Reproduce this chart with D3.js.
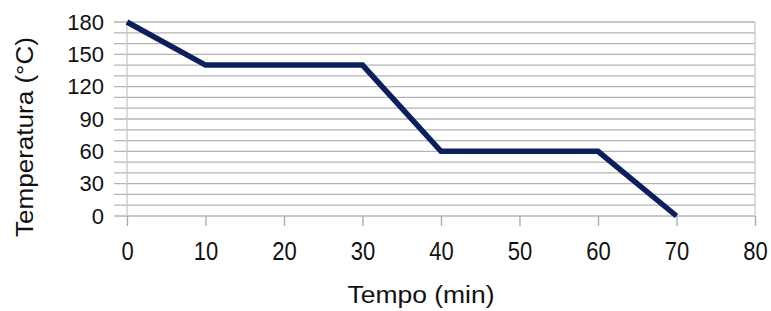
<!DOCTYPE html>
<html><head><meta charset="utf-8">
<script src="https://cdn.jsdelivr.net/npm/d3@7"></script>
<style>body{margin:0;background:#fff;} text{font-family:"Liberation Sans",Arial,sans-serif;fill:#111;}</style>
</head><body>
<svg id="c" width="771" height="311"></svg>
<script>
const tempo = [0, 10, 30, 40, 60, 70];
const temperatura = [180, 140, 140, 60, 60, 0];
const xTicks = [0, 10, 20, 30, 40, 50, 60, 70, 80];
const yTicks = [0, 30, 60, 90, 120, 150, 180];
const yGrid = d3.range(0, 181, 10);

const svg = d3.select("#c");
const x = d3.scaleLinear().domain([0, 80]).range([127, 755]);
const y = d3.scaleLinear().domain([0, 180]).range([216, 22]);

// horizontal grid lines
svg.append("g").selectAll("line").data(yGrid).join("line")
  .attr("x1", 114).attr("x2", x(80))
  .attr("y1", d => y(d)).attr("y2", d => y(d))
  .attr("stroke", "#b4b4b4").attr("stroke-width", 1.3);

// vertical axis + right border
svg.append("line").attr("x1", x(0)).attr("x2", x(0)).attr("y1", y(180)).attr("y2", y(0))
  .attr("stroke", "#c8c8c8").attr("stroke-width", 1.3);
svg.append("line").attr("x1", x(80)).attr("x2", x(80)).attr("y1", y(180)).attr("y2", y(0))
  .attr("stroke", "#c8c8c8").attr("stroke-width", 1.3);

// x axis ticks
const xAxis = d3.axisBottom(x).tickValues(xTicks).tickSize(10).tickPadding(8).tickFormat(d3.format("d"));
const gx = svg.append("g").attr("transform", `translate(0,${y(0)})`).call(xAxis);
gx.select(".domain").remove();
gx.selectAll(".tick line").attr("stroke", "#aaa").attr("stroke-width", 1.3);
gx.selectAll(".tick text").style("font-size", "22px").attr("fill", "#111")
  .attr("y", 0).attr("dy", null).attr("transform", "scale(1,1.15) translate(0,38.3)");

// y axis labels
const yAxis = d3.axisLeft(y).tickValues(yTicks).tickSize(0).tickPadding(23);
const gy = svg.append("g").attr("transform", `translate(${x(0)},0)`).call(yAxis);
gy.select(".domain").remove();
gy.selectAll(".tick text").style("font-size", "22px").attr("fill", "#111");

// line
const line = d3.line().x((d, i) => x(tempo[i])).y(d => y(d));
svg.append("path").datum(temperatura).attr("d", line)
  .attr("fill", "none").attr("stroke", "#0b1f5e").attr("stroke-width", 5.5)
  .attr("stroke-linejoin", "miter");

// titles
svg.append("text").attr("x", 421).attr("y", 303).attr("text-anchor", "middle")
  .attr("textLength", 147).attr("lengthAdjust", "spacingAndGlyphs")
  .style("font-size", "23px").text("Tempo (min)");
svg.append("text").attr("transform", "translate(33,137) rotate(-90)").attr("text-anchor", "middle")
  .attr("textLength", 200).attr("lengthAdjust", "spacingAndGlyphs")
  .style("font-size", "23px").text("Temperatura (°C)");
</script>
</body></html>
